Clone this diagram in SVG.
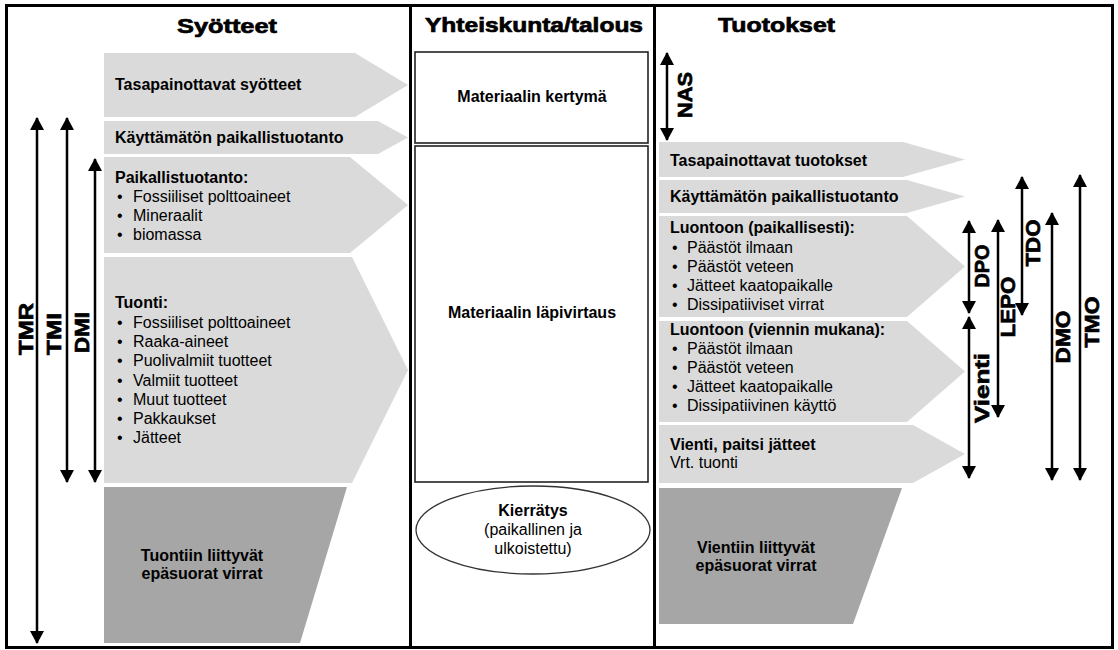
<svg xmlns="http://www.w3.org/2000/svg" width="1118" height="650" viewBox="0 0 1118 650">
<style>
text{font-family:"Liberation Sans",Arial,sans-serif;fill:#000}
.h{font-size:21px;font-weight:bold;stroke:#000;stroke-width:0.7}
.b{font-size:16px;font-weight:bold}
.r{font-size:16px}
.c{text-anchor:middle}
.lab{font-size:21px;font-weight:bold;text-anchor:middle;stroke:#000;stroke-width:0.7}
.light{fill:#dadada}
.dark{fill:#a6a6a6}
.ar{stroke:#000;stroke-width:2.5;fill:none;marker-start:url(#ah);marker-end:url(#ah)}
.box{fill:#fff;stroke:#222;stroke-width:1.6}
</style>
<defs>
<marker id="ah" viewBox="0 0 13 14" refX="12" refY="7" markerWidth="13" markerHeight="14" markerUnits="userSpaceOnUse" orient="auto-start-reverse">
<path d="M0,0 L13,7 L0,14 z" fill="#000"/>
</marker>
</defs>
<rect x="0" y="0" width="1118" height="650" fill="#fff"/>
<rect x="6.5" y="5.5" width="1106" height="642" fill="none" stroke="#000" stroke-width="3"/>
<line x1="410.5" y1="5" x2="410.5" y2="648" stroke="#000" stroke-width="3"/>
<line x1="654.5" y1="5" x2="654.5" y2="648" stroke="#000" stroke-width="3"/>

<g id="headers">
<text class="h" x="177" y="33" textLength="100" lengthAdjust="spacingAndGlyphs">Syötteet</text>
<text class="h" x="425" y="32" textLength="218" lengthAdjust="spacingAndGlyphs">Yhteiskunta/talous</text>
<text class="h" x="718" y="32" textLength="117" lengthAdjust="spacingAndGlyphs">Tuotokset</text>
</g>

<g id="in-balancing">
<polygon class="light" points="104,53 355,53 408,85 355,117 104,117"/>
<text class="b" x="115" y="90">Tasapainottavat syötteet</text>
</g>
<g id="in-unused">
<polygon class="light" points="104,121 378,121 408,137.5 378,154 104,154"/>
<text class="b" x="115" y="143">Käyttämätön paikallistuotanto</text>
</g>
<g id="in-local">
<polygon class="light" points="104,157 350,157 408,205 350,253 104,253"/>
<text class="b" x="115" y="183">Paikallistuotanto:</text>
<text class="r" x="117" y="202">•</text><text class="r" x="133" y="202">Fossiiliset polttoaineet</text>
<text class="r" x="117" y="221">•</text><text class="r" x="133" y="221">Mineraalit</text>
<text class="r" x="117" y="240">•</text><text class="r" x="133" y="240">biomassa</text>
</g>
<g id="in-import">
<polygon class="light" points="104,257 352,257 408,370 352,483 104,483"/>
<text class="b" x="115" y="308">Tuonti:</text>
<text class="r" x="117" y="328">•</text><text class="r" x="133" y="328">Fossiiliset polttoaineet</text>
<text class="r" x="117" y="347">•</text><text class="r" x="133" y="347">Raaka-aineet</text>
<text class="r" x="117" y="366">•</text><text class="r" x="133" y="366">Puolivalmiit tuotteet</text>
<text class="r" x="117" y="386">•</text><text class="r" x="133" y="386">Valmiit tuotteet</text>
<text class="r" x="117" y="405">•</text><text class="r" x="133" y="405">Muut tuotteet</text>
<text class="r" x="117" y="424">•</text><text class="r" x="133" y="424">Pakkaukset</text>
<text class="r" x="117" y="443">•</text><text class="r" x="133" y="443">Jätteet</text>
</g>
<g id="in-indirect">
<polygon class="dark" points="104,487 347,487 300,643 104,643"/>
<text class="b c" x="202" y="561">Tuontiin liittyvät</text>
<text class="b c" x="202" y="579">epäsuorat virrat</text>
</g>

<g id="stock">
<rect class="box" x="415" y="52" width="233" height="91"/>
<text class="b c" x="532" y="102">Materiaalin kertymä</text>
</g>
<g id="throughput">
<rect class="box" x="415" y="146" width="233" height="336"/>
<text class="b c" x="532" y="318">Materiaalin läpivirtaus</text>
</g>
<g id="recycling">
<ellipse cx="533" cy="530" rx="117" ry="44" fill="#fff" stroke="#333" stroke-width="1.3"/>
<text class="b c" x="533" y="516">Kierrätys</text>
<text class="r c" x="533" y="535">(paikallinen ja</text>
<text class="r c" x="533" y="554">ulkoistettu)</text>
</g>

<g id="out-balancing">
<polygon class="light" points="659,142 903,142 965,159.5 903,177 659,177"/>
<text class="b" x="670" y="166">Tasapainottavat tuotokset</text>
</g>
<g id="out-unused">
<polygon class="light" points="659,180 907,180 965,196.5 907,213 659,213"/>
<text class="b" x="670" y="202">Käyttämätön paikallistuotanto</text>
</g>
<g id="out-local">
<polygon class="light" points="659,216 907,216 965,266.5 907,317 659,317"/>
<text class="b" x="670" y="233">Luontoon (paikallisesti):</text>
<text class="r" x="672" y="253">•</text><text class="r" x="687" y="253">Päästöt ilmaan</text>
<text class="r" x="672" y="272">•</text><text class="r" x="687" y="272">Päästöt veteen</text>
<text class="r" x="672" y="291">•</text><text class="r" x="687" y="291">Jätteet kaatopaikalle</text>
<text class="r" x="672" y="310">•</text><text class="r" x="687" y="310">Dissipatiiviset virrat</text>
</g>
<g id="out-export-nature">
<polygon class="light" points="659,321 907,321 965,371.5 907,422 659,422"/>
<text class="b" x="670" y="335">Luontoon (viennin mukana):</text>
<text class="r" x="672" y="354">•</text><text class="r" x="687" y="354">Päästöt ilmaan</text>
<text class="r" x="672" y="373">•</text><text class="r" x="687" y="373">Päästöt veteen</text>
<text class="r" x="672" y="392">•</text><text class="r" x="687" y="392">Jätteet kaatopaikalle</text>
<text class="r" x="672" y="411">•</text><text class="r" x="687" y="411">Dissipatiivinen käyttö</text>
</g>
<g id="out-export">
<polygon class="light" points="659,425 913,425 965,454 913,483 659,483"/>
<text class="b" x="670" y="450">Vienti, paitsi jätteet</text>
<text class="r" x="670" y="468">Vrt. tuonti</text>
</g>
<g id="out-indirect">
<polygon class="dark" points="659,488 902,488 853,624 659,624"/>
<text class="b c" x="756" y="553">Vientiin liittyvät</text>
<text class="b c" x="756" y="571">epäsuorat virrat</text>
</g>

<g id="connectors">
<line class="ar" x1="37" y1="118" x2="37" y2="643"/>
<line class="ar" x1="67" y1="118" x2="67" y2="482"/>
<line class="ar" x1="95" y1="159" x2="95" y2="482"/>
<line class="ar" x1="667" y1="53" x2="667" y2="140"/>
<line class="ar" x1="969" y1="221" x2="969" y2="313"/>
<line class="ar" x1="969" y1="317" x2="969" y2="478"/>
<line class="ar" x1="998" y1="220" x2="998" y2="417"/>
<line class="ar" x1="1022" y1="177" x2="1022" y2="315"/>
<line class="ar" x1="1052" y1="213" x2="1052" y2="480"/>
<line class="ar" x1="1080" y1="175" x2="1080" y2="480"/>
</g>

<g id="labels">
<text class="lab" transform="translate(25,329) rotate(-90)" y="8" textLength="52" lengthAdjust="spacingAndGlyphs">TMR</text>
<text class="lab" transform="translate(52.5,334) rotate(-90)" y="8" textLength="42" lengthAdjust="spacingAndGlyphs">TMI</text>
<text class="lab" transform="translate(80.5,332.5) rotate(-90)" y="8" textLength="41" lengthAdjust="spacingAndGlyphs">DMI</text>
<text class="lab" transform="translate(684,95) rotate(-90)" y="8" textLength="46" lengthAdjust="spacingAndGlyphs">NAS</text>
<text class="lab" transform="translate(981.5,266) rotate(-90)" y="7" textLength="43" lengthAdjust="spacingAndGlyphs">DPO</text>
<text class="lab" transform="translate(982,388) rotate(-90)" y="7" textLength="70" lengthAdjust="spacingAndGlyphs">Vienti</text>
<text class="lab" transform="translate(1008,307) rotate(-90)" y="7" textLength="61" lengthAdjust="spacingAndGlyphs">LEPO</text>
<text class="lab" transform="translate(1032.5,243) rotate(-90)" y="7" textLength="47" lengthAdjust="spacingAndGlyphs">TDO</text>
<text class="lab" transform="translate(1063,337) rotate(-90)" y="7" textLength="53" lengthAdjust="spacingAndGlyphs">DMO</text>
<text class="lab" transform="translate(1092,322) rotate(-90)" y="7" textLength="51" lengthAdjust="spacingAndGlyphs">TMO</text>
</g>
</svg>
